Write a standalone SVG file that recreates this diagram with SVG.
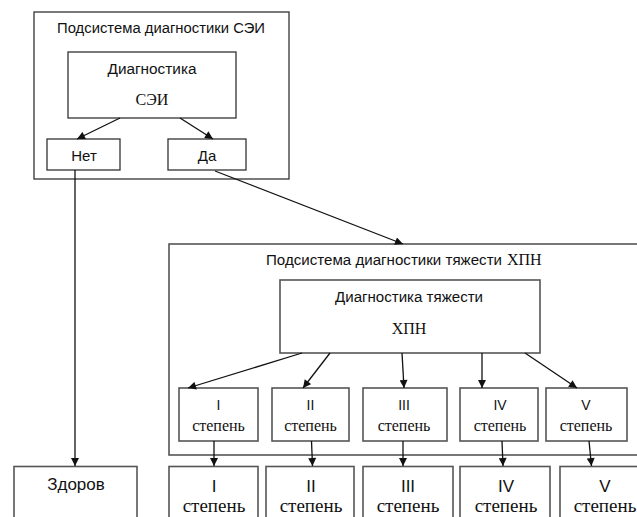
<svg xmlns="http://www.w3.org/2000/svg" width="637" height="517" viewBox="0 0 637 517">
<defs>
<style>
.box{fill:#fff;stroke:#333;stroke-width:1.3}
.gbox{fill:#fff;stroke:#555;stroke-width:1.6}
.sans{font-family:"Liberation Sans","DejaVu Sans",sans-serif;fill:#111;text-anchor:middle}
.serif{font-family:"Liberation Serif","DejaVu Serif",serif;fill:#111;text-anchor:middle}
.con{stroke:#111;stroke-width:1.3;fill:none;marker-end:url(#ah)}
</style>
<marker id="ah" viewBox="0 0 10 10" refX="10" refY="5" markerWidth="9" markerHeight="8" markerUnits="userSpaceOnUse" orient="auto">
<path d="M0,0 L10,5 L0,10 z" fill="#111"/>
</marker>
</defs>
<rect width="637" height="517" fill="#fff"/>

<g id="subsystem1">
<rect class="box" x="34" y="12" width="255" height="167"/>
<text class="sans" x="161" y="33" font-size="14" textLength="208" lengthAdjust="spacingAndGlyphs">Подсистема диагностики СЭИ</text>
</g>
<g id="diag1">
<rect class="box" x="68" y="52" width="168" height="66"/>
<text class="sans" x="152" y="74" font-size="14" textLength="89" lengthAdjust="spacingAndGlyphs">Диагностика</text>
<text class="serif" x="152" y="105" font-size="16">СЭИ</text>
</g>
<g id="net">
<rect class="box" x="47" y="139" width="73" height="31"/>
<text class="sans" x="84" y="161" font-size="15">Нет</text>
</g>
<g id="da">
<rect class="box" x="168" y="139" width="78" height="31"/>
<text class="sans" x="207" y="161" font-size="15">Да</text>
</g>

<g id="subsystem2">
<rect class="gbox" x="169" y="244" width="490" height="211"/>
<text x="266" y="265" font-size="14"><tspan font-family="Liberation Sans, sans-serif" fill="#111" textLength="236" lengthAdjust="spacingAndGlyphs">Подсистема диагностики тяжести</tspan><tspan font-family="Liberation Serif, serif" fill="#111" font-size="16" x="507">ХПН</tspan></text>
</g>
<g id="diag2">
<rect class="gbox" x="280" y="280" width="260" height="73"/>
<text class="sans" x="409" y="302" font-size="14" textLength="148" lengthAdjust="spacingAndGlyphs">Диагностика тяжести</text>
<text class="serif" x="409" y="334" font-size="16">ХПН</text>
</g>

<g id="s1">
<rect class="gbox" x="179" y="388" width="79" height="53"/>
<text class="sans" x="218.5" y="410" font-size="14">I</text>
<text class="serif" x="218.5" y="431" font-size="16">степень</text>
</g>
<g id="s2">
<rect class="gbox" x="272" y="388" width="77" height="53"/>
<text class="sans" x="310.5" y="410" font-size="14">II</text>
<text class="serif" x="310.5" y="431" font-size="16">степень</text>
</g>
<g id="s3">
<rect class="gbox" x="363" y="388" width="84" height="53"/>
<text class="sans" x="404" y="410" font-size="14">III</text>
<text class="serif" x="404" y="431" font-size="16">степень</text>
</g>
<g id="s4">
<rect class="gbox" x="460" y="388" width="78" height="53"/>
<text class="sans" x="500" y="410" font-size="14">IV</text>
<text class="serif" x="500" y="431" font-size="16">степень</text>
</g>
<g id="s5">
<rect class="gbox" x="546" y="388" width="81" height="53"/>
<text class="sans" x="586" y="410" font-size="14">V</text>
<text class="serif" x="586" y="431" font-size="16">степень</text>
</g>

<g id="zdorov">
<rect class="gbox" x="14" y="466.5" width="123" height="60"/>
<text class="sans" x="76" y="490" font-size="17">Здоров</text>
</g>
<g id="r1">
<rect class="gbox" x="169" y="466.5" width="89" height="60"/>
<text class="sans" x="214" y="492" font-size="17">I</text>
<text class="serif" x="214" y="512" font-size="19">степень</text>
</g>
<g id="r2">
<rect class="gbox" x="266" y="466.5" width="88" height="60"/>
<text class="sans" x="311" y="492" font-size="17">II</text>
<text class="serif" x="311" y="512" font-size="19">степень</text>
</g>
<g id="r3">
<rect class="gbox" x="363" y="466.5" width="90" height="60"/>
<text class="sans" x="408" y="492" font-size="17">III</text>
<text class="serif" x="408" y="512" font-size="19">степень</text>
</g>
<g id="r4">
<rect class="gbox" x="460" y="466.5" width="90" height="60"/>
<text class="sans" x="506" y="492" font-size="17">IV</text>
<text class="serif" x="506" y="512" font-size="19">степень</text>
</g>
<g id="r5">
<rect class="gbox" x="560" y="466.5" width="90" height="60"/>
<text class="sans" x="605" y="492" font-size="17">V</text>
<text class="serif" x="605" y="512" font-size="19">степень</text>
</g>

<g id="connectors">
<line class="con" x1="120" y1="118" x2="77" y2="139"/>
<line class="con" x1="180" y1="118" x2="213" y2="139"/>
<line class="con" x1="75" y1="170" x2="75" y2="466"/>
<line class="con" x1="215" y1="171" x2="403" y2="244"/>
<line class="con" x1="302" y1="353" x2="188" y2="388"/>
<line class="con" x1="330" y1="353" x2="303" y2="388"/>
<line class="con" x1="402" y1="353" x2="404" y2="388"/>
<line class="con" x1="482" y1="353" x2="482" y2="388"/>
<line class="con" x1="525" y1="353" x2="577" y2="388"/>
<line class="con" x1="214" y1="441" x2="214" y2="466"/>
<line class="con" x1="311.5" y1="441" x2="312.5" y2="466"/>
<line class="con" x1="403" y1="441" x2="403" y2="466"/>
<line class="con" x1="502" y1="441" x2="503" y2="466"/>
<line class="con" x1="589" y1="441" x2="591.5" y2="466"/>
</g>
</svg>
